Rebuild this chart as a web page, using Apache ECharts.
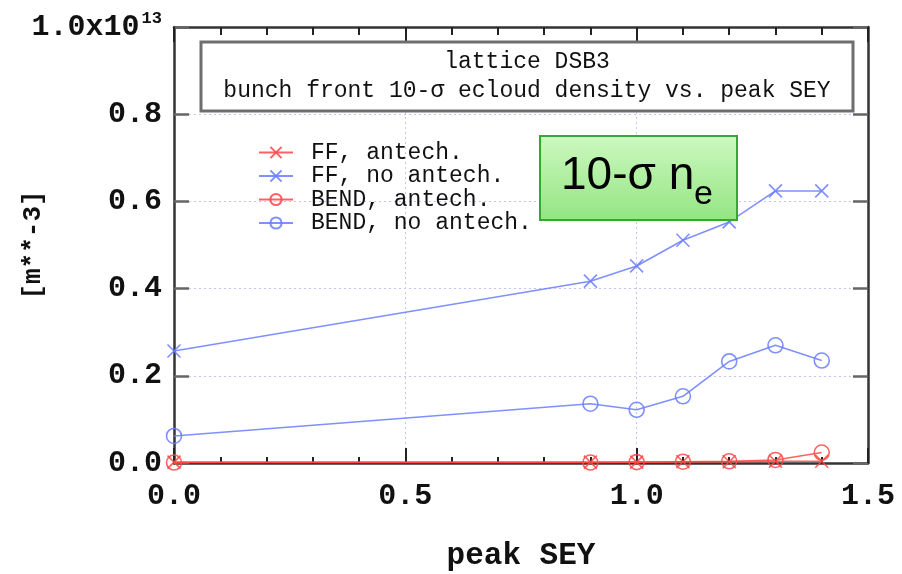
<!DOCTYPE html>
<html>
<head>
<meta charset="utf-8">
<script src="https://cdn.jsdelivr.net/npm/echarts@6/dist/echarts.min.js"></script>
<style>
  html, body { margin: 0; padding: 0; background: #ffffff; }
  #chart { width: 902px; height: 574px; }
</style>
</head>
<body>
<div id="chart"></div>
<script>
// Peak secondary electron yield values
const sey = [0.0, 0.9, 1.0, 1.1, 1.2, 1.3, 1.4];

// Bunch-front 10-sigma electron cloud density, in units of 1e13 m^-3
const ffAntech      = [0.002, 0.002, 0.002, 0.003, 0.003, 0.004, 0.004];
const ffNoAntech    = [0.257, 0.417, 0.452, 0.511, 0.553, 0.624, 0.624];
const bendAntech    = [0.001, 0.001, 0.002, 0.003, 0.004, 0.007, 0.024];
const bendNoAntech  = [0.062, 0.136, 0.122, 0.153, 0.233, 0.270, 0.235];

const seriesNames = ['FF, antech.', 'FF, no antech.', 'BEND, antech.', 'BEND, no antech.'];
const titleLines = ['lattice DSB3', 'bunch front 10-\u03c3 ecloud density vs. peak SEY'];
const xTitle = 'peak SEY';
const yTitle = '[m**-3]';

const RED = 'rgba(255, 70, 70, 0.85)';
const BLUE = 'rgba(105, 125, 255, 0.85)';
const MONO = '"Liberation Mono", "DejaVu Sans Mono", monospace';
const CROSS = 'path://M0,0L10,10M10,0L0,10';

function pairs(ys) { return sey.map((x, i) => [x, ys[i]]); }

function makeSeries(name, ys, color, symbol, size) {
  return {
    name: name,
    type: 'line',
    data: pairs(ys),
    symbol: symbol,
    symbolSize: size,
    showSymbol: true,
    lineStyle: { color: color, width: 1.6 },
    itemStyle: { color: 'rgba(0,0,0,0)', borderColor: color, borderWidth: 1.6 },
    emphasis: { disabled: true },
    z: 3
  };
}

const chart = echarts.init(document.getElementById('chart'), null, { renderer: 'canvas' });

const tickLabel = { fontFamily: MONO, fontSize: 30, fontWeight: 'bold', color: '#111' };
const frameLine = { onZero: false, lineStyle: { color: '#333', width: 2.5 } };

chart.setOption({
  backgroundColor: '#ffffff',
  animation: false,
  grid: { left: 174, right: 34, top: 27, bottom: 111, containLabel: false, outerBoundsMode: 'none' },
  legend: {
    orient: 'vertical',
    left: 253,
    top: 136,
    itemWidth: 34,
    itemHeight: 14,
    itemGap: 0.5,
    data: seriesNames,
    textStyle: { fontFamily: MONO, fontSize: 23, color: '#111', lineHeight: 23, padding: [0, 0, 0, 13] },
    selectedMode: false
  },
  xAxis: [
    {
      type: 'value', min: 0, max: 1.5, interval: 0.5,
      position: 'bottom',
      name: xTitle, nameLocation: 'middle', nameGap: 78, nameMoveOverlap: false,
      nameTextStyle: { fontFamily: MONO, fontSize: 31, fontWeight: 'bold', color: '#111' },
      axisLine: frameLine,
      axisTick: { inside: true, length: 15, lineStyle: { color: '#222', width: 2 } },
      minorTick: { show: true, splitNumber: 5, length: 6, lineStyle: { color: '#222', width: 2 } },
      axisLabel: Object.assign({ margin: 18, formatter: v => v.toFixed(1) }, tickLabel),
      splitLine: { show: true, lineStyle: { color: '#c4c4f0', type: [2, 3], width: 1 } }
    },
    {
      type: 'value', min: 0, max: 1.5, interval: 0.5,
      position: 'top',
      axisLine: frameLine,
      axisTick: { inside: true, length: 15, lineStyle: { color: '#222', width: 2 } },
      minorTick: { show: true, splitNumber: 5, length: 8, lineStyle: { color: '#222', width: 2 } },
      axisLabel: { show: false },
      splitLine: { show: false }
    }
  ],
  yAxis: [
    {
      type: 'value', min: 0, max: 1.0, interval: 0.2,
      position: 'left',
      name: yTitle, nameLocation: 'middle', nameGap: 128, nameRotate: 90, nameMoveOverlap: false,
      nameTextStyle: { fontFamily: MONO, fontSize: 26, fontWeight: 'bold', color: '#111' },
      axisLine: frameLine,
      axisTick: { inside: true, length: 15, lineStyle: { color: '#666', width: 2.5 } },
      axisLabel: Object.assign({
        margin: 12,
        formatter: v => Math.abs(v - 1) < 1e-9 ? '{m|1.0x10}{s|13}' : v.toFixed(1),
        rich: {
          m: { fontFamily: MONO, fontSize: 30, fontWeight: 'bold', color: '#111', lineHeight: 34 },
          s: { fontFamily: MONO, fontSize: 17, fontWeight: 'bold', color: '#111', lineHeight: 20, verticalAlign: 'top', padding: [0, 0, 0, 2] }
        }
      }, tickLabel),
      splitLine: { show: true, lineStyle: { color: '#c4c4f0', type: [2, 3], width: 1 } }
    },
    {
      type: 'value', min: 0, max: 1.0, interval: 0.2,
      position: 'right',
      axisLine: Object.assign({ show: true }, frameLine),
      axisTick: { show: true, inside: true, length: 15, lineStyle: { color: '#666', width: 2.5 } },
      axisLabel: { show: false },
      splitLine: { show: false }
    }
  ],
  series: [
    makeSeries(seriesNames[0], ffAntech, RED, CROSS, 13),
    makeSeries(seriesNames[1], ffNoAntech, BLUE, CROSS, 13),
    makeSeries(seriesNames[2], bendAntech, RED, 'circle', 15),
    makeSeries(seriesNames[3], bendNoAntech, BLUE, 'circle', 15)
  ],
  graphic: [
    // framed plot title
    {
      type: 'rect', z: 10,
      shape: { x: 201, y: 42, width: 652, height: 69 },
      style: { fill: '#ffffff', stroke: '#6e6e6e', lineWidth: 3 }
    },
    {
      type: 'text', z: 11, x: 527, y: 62,
      style: { text: titleLines[0], fontFamily: MONO, fontSize: 23, fill: '#111', align: 'center', verticalAlign: 'middle' }
    },
    {
      type: 'text', z: 11, x: 527, y: 91,
      style: { text: titleLines[1], fontFamily: MONO, fontSize: 23, fill: '#111', align: 'center', verticalAlign: 'middle' }
    },
    // green annotation box
    {
      type: 'rect', z: 10,
      shape: { x: 540, y: 136, width: 197, height: 84 },
      style: {
        fill: new echarts.graphic.LinearGradient(0, 0, 0, 1, [
          { offset: 0, color: '#cdf8c0' },
          { offset: 1, color: '#93e582' }
        ]),
        stroke: '#35a82f', lineWidth: 2
      }
    },
    {
      type: 'text', z: 11, x: 561, y: 176,
      style: { text: '10-\u03c3 n', fontFamily: '"Liberation Sans", Arial, sans-serif', fontSize: 46, fill: '#000', align: 'left', verticalAlign: 'middle' }
    },
    {
      type: 'text', z: 11, x: 694, y: 195,
      style: { text: 'e', fontFamily: '"Liberation Sans", Arial, sans-serif', fontSize: 34, fill: '#000', align: 'left', verticalAlign: 'middle' }
    }
  ]
});
</script>
</body>
</html>
